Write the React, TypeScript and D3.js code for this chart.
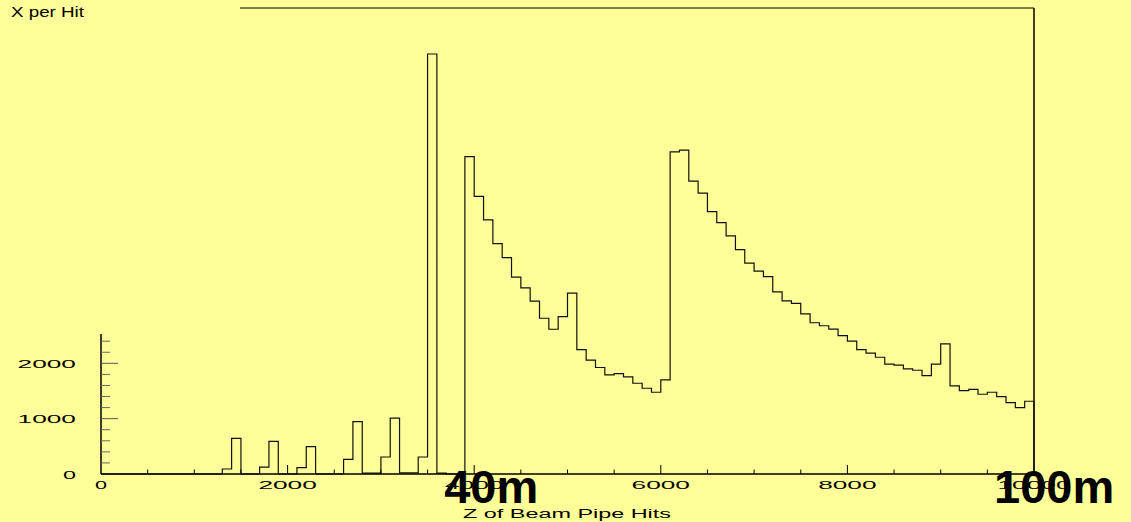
import React, { useRef, useEffect } from 'react';
import * as d3 from 'd3';

// hits per 100-unit bin in Z, 0..10000
const binWidth = 100;
const hits = [
  0, 0, 0, 0, 0, 0, 0, 0, 0, 0,
  0, 0, 0, 90, 645, 0, 0, 125, 590, 0,
  0, 115, 495, 0, 0, 0, 265, 945, 15, 15,
  307, 1010, 20, 20, 307, 7590, 15, 0, 0, 5735,
  5018, 4593, 4165, 3911, 3557, 3363, 3123, 2815, 2616, 2845,
  3268, 2248, 2058, 1925, 1790, 1814, 1757, 1640, 1550, 1477,
  1700, 5823, 5853, 5293, 5076, 4743, 4544, 4304, 4056, 3810,
  3665, 3568, 3291, 3128, 3083, 2893, 2733, 2679, 2619, 2501,
  2400, 2248, 2183, 2110, 1984, 1966, 1899, 1875, 1778, 1984,
  2351, 1591, 1506, 1531, 1441, 1477, 1398, 1289, 1199, 1315,
];

const xMajorTicks = [0, 2000, 4000, 6000, 8000, 10000];
const xTickLabels = ['0', '2000', '4000', '6000', '8000', '10000'];
const yMajorTicks = [0, 1000, 2000];
const yTickLabels = ['0', '1000', '2000'];
const yAxisTop = 2530;

const xTitle = 'Z of Beam Pipe Hits';
const yTitle = 'X per Hit';
const marks = [
  { label: '40m', at: 4000, shift: -30 },
  { label: '100m', at: 10000, shift: -40 },
];

const W = 1131;
const H = 522;

const HitsChart = () => {
  const svgRef = useRef<SVGSVGElement>(null);

  useEffect(() => {
    const svg = d3.select(svgRef.current);
    svg.selectAll('*').remove();

    const x = d3.scaleLinear().domain([0, 10000]).range([101, 1034]);
    const y = d3.scaleLinear().domain([0, yAxisTop]).range([474, 334]);

    svg.append('rect')
      .attr('width', W)
      .attr('height', H)
      .attr('fill', '#ffff99');

    // frame bits (top and right)
    svg.append('line')
      .attr('x1', 240).attr('x2', x(10000))
      .attr('y1', 8).attr('y2', 8)
      .attr('stroke', '#000').attr('stroke-width', 1);
    svg.append('line')
      .attr('x1', x(10000)).attr('x2', x(10000))
      .attr('y1', 8).attr('y2', y(0))
      .attr('stroke', '#000').attr('stroke-width', 1.5);

    // histogram outline
    const pts: [number, number][] = [];
    hits.forEach((v, i) => {
      pts.push([x(i * binWidth), y(v)]);
      pts.push([x((i + 1) * binWidth), y(v)]);
    });
    pts.unshift([x(0), y(0)]);
    pts.push([x(hits.length * binWidth), y(0)]);

    svg.append('path')
      .datum(pts)
      .attr('fill', 'none')
      .attr('stroke', '#111')
      .attr('stroke-width', 1.2)
      .attr('d', d3.line());

    // x axis
    svg.append('line')
      .attr('x1', x(0)).attr('x2', x(10000))
      .attr('y1', y(0)).attr('y2', y(0))
      .attr('stroke', '#000').attr('stroke-width', 1.3);

    d3.range(500, 10000, 500).forEach(t => {
      const major = t % 2000 === 0;
      svg.append('line')
        .attr('x1', x(t)).attr('x2', x(t))
        .attr('y1', y(0)).attr('y2', y(0) - (major ? 9 : 4.5))
        .attr('stroke', '#000').attr('stroke-width', 1);
    });

    xMajorTicks.forEach((t, i) => {
      const lbl = xTickLabels[i];
      svg.append('text')
        .attr('x', x(t))
        .attr('y', 489)
        .attr('text-anchor', 'middle')
        .attr('font-family', 'Liberation Sans, Arial, sans-serif')
        .attr('font-size', 11)
        .attr('textLength', lbl.length === 1 ? 12 : lbl.length * 14.6)
        .attr('lengthAdjust', 'spacingAndGlyphs')
        .text(lbl);
    });

    // y axis
    svg.append('line')
      .attr('x1', x(0)).attr('x2', x(0))
      .attr('y1', y(0)).attr('y2', y(yAxisTop))
      .attr('stroke', '#000').attr('stroke-width', 1.5);

    d3.range(200, 2500, 200).forEach(t => {
      const major = t % 1000 === 0;
      svg.append('line')
        .attr('x1', x(0)).attr('x2', x(0) + (major ? 17 : 9))
        .attr('y1', y(t)).attr('y2', y(t))
        .attr('stroke', major ? '#555' : '#666').attr('stroke-width', 1);
    });

    yMajorTicks.forEach((t, i) => {
      const lbl = yTickLabels[i];
      svg.append('text')
        .attr('x', 76)
        .attr('y', y(t) + 4.5)
        .attr('text-anchor', 'end')
        .attr('font-family', 'Liberation Sans, Arial, sans-serif')
        .attr('font-size', 11)
        .attr('textLength', lbl.length === 1 ? 13 : lbl.length * 14.6)
        .attr('lengthAdjust', 'spacingAndGlyphs')
        .text(lbl);
    });

    // titles
    svg.append('text')
      .attr('x', 463)
      .attr('y', 518)
      .attr('font-family', 'Liberation Sans, Arial, sans-serif')
      .attr('font-size', 12.5)
      .attr('textLength', 208)
      .attr('lengthAdjust', 'spacingAndGlyphs')
      .text(xTitle);

    svg.append('text')
      .attr('x', 11)
      .attr('y', 16.5)
      .attr('font-family', 'Liberation Sans, Arial, sans-serif')
      .attr('font-size', 15.5)
      .attr('textLength', 73)
      .attr('lengthAdjust', 'spacingAndGlyphs')
      .text(yTitle);

    // big distance markers on top of everything
    marks.forEach(m => {
      svg.append('text')
        .attr('x', x(m.at) + m.shift)
        .attr('y', 503)
        .attr('font-family', 'Liberation Sans, Arial, sans-serif')
        .attr('font-weight', 'bold')
        .attr('font-size', 47)
        .attr('fill', '#000')
        .text(m.label);
    });
  }, []);

  return (
    <svg
      ref={svgRef}
      width={W}
      height={H}
      style={{ position: 'absolute', left: 0, top: 0, display: 'block' }}
    />
  );
};

export default function App() {
  return <HitsChart />;
}
